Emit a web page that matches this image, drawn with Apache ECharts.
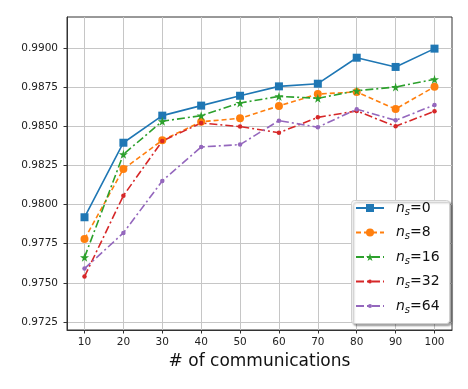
<!DOCTYPE html>
<html>
<head>
<meta charset="utf-8">
<script src="https://cdn.jsdelivr.net/npm/echarts@6/dist/echarts.min.js"></script>
<style>
  html, body { margin: 0; padding: 0; background: #fff; }
  #chart { width: 468px; height: 389px; }
</style>
</head>
<body>
<div id="chart"></div>
<script>
const rounds = [10, 20, 30, 40, 50, 60, 70, 80, 90, 100];
const yTicks = [0.9725, 0.975, 0.9775, 0.98, 0.9825, 0.985, 0.9875, 0.99];

const ns0 = [0.97919, 0.98395, 0.98568, 0.98632, 0.98695, 0.98755, 0.98772, 0.98938, 0.98879, 0.98996];
const ns8 = [0.97780, 0.98227, 0.98411, 0.98529, 0.98551, 0.98630, 0.98706, 0.98719, 0.98610, 0.98753];
const ns16 = [0.97663, 0.98321, 0.98532, 0.98568, 0.98649, 0.98691, 0.98679, 0.98727, 0.98751, 0.98800];
const ns32 = [0.97540, 0.98057, 0.98406, 0.98521, 0.98498, 0.98459, 0.98557, 0.98598, 0.98500, 0.98596];
const ns64 = [0.97591, 0.97819, 0.98151, 0.98368, 0.98383, 0.98536, 0.98494, 0.98609, 0.98538, 0.98636];

const seriesNames = ['n_s=0', 'n_s=8', 'n_s=16', 'n_s=32', 'n_s=64'];
const colors = ['#1f77b4', '#ff7f0e', '#2ca02c', '#d62728', '#9467bd'];

const STAR = 'path://M50,0 L61,35 L98,35 L68,57 L79,91 L50,70 L21,91 L32,57 L2,35 L39,35 Z';
const FONT = 'DejaVu Sans';

function makeSeries(name, values, color, lineType, symbol, symbolSize) {
    return {
        name,
        type: 'line',
        data: rounds.map((x, i) => [x, values[i]]),
        symbol,
        symbolSize,
        showAllSymbol: true,
        lineStyle: { color, width: 1.6, type: lineType },
        itemStyle: { color, borderWidth: 0 },
        emphasis: { disabled: true },
        animation: false,
    };
}

// one legend per entry so each marker keeps its own size
const legendRowY = [210, 234.5, 259, 283.5, 308];
const legendIconH = [10, 10, 10, 5, 5];

function makeLegend(i) {
    return {
        left: 355,
        top: legendRowY[i] - 9,
        padding: 0,
        z: 6,
        itemWidth: 28,
        itemHeight: legendIconH[i],
        data: [seriesNames[i]],
        selectedMode: false,
        formatter: (name) => '{n|n}{s|s}{t|=' + name.split('=')[1] + '}',
        textStyle: {
            padding: [0, 0, 0, 7],
            rich: {
                n: { fontSize: 14, lineHeight: 18, fontStyle: 'italic', color: '#111', fontFamily: FONT },
                s: { fontSize: 10, lineHeight: 18, fontStyle: 'italic', color: '#111', verticalAlign: 'bottom', padding: [5, 0, 0, 0], fontFamily: FONT },
                t: { fontSize: 14, lineHeight: 18, color: '#111', fontFamily: FONT },
            },
        },
    };
}

const chart = echarts.init(document.getElementById('chart'));

chart.setOption({
    animation: false,
    backgroundColor: '#fff',
    textStyle: { fontFamily: FONT },
    grid: {
        left: 67, top: 17, right: 16, bottom: 59,
        show: true, borderColor: '#333', borderWidth: 1,
    },
    xAxis: {
        type: 'value',
        min: 5.5,
        max: 104.5,
        name: '# of communications',
        nameLocation: 'middle',
        nameGap: 22,
        nameTextStyle: { fontSize: 17, color: '#111', fontFamily: FONT },
        axisLine: { show: true, onZero: false, lineStyle: { color: '#333' } },
        axisTick: { show: true, customValues: rounds, length: 3.5, lineStyle: { color: '#333' } },
        axisLabel: { customValues: rounds, margin: 7, fontSize: 10.5, color: '#222', fontFamily: FONT },
        splitLine: { show: true, lineStyle: { color: '#c6c6c6', width: 1 } },
    },
    yAxis: {
        type: 'value',
        min: 0.97199,
        max: 0.99198,
        axisLine: { show: true, lineStyle: { color: '#333' } },
        axisTick: { show: true, customValues: yTicks, length: 3.5, lineStyle: { color: '#333' } },
        axisLabel: {
            customValues: yTicks,
            margin: 9,
            fontSize: 10.5,
            color: '#222',
            fontFamily: FONT,
            formatter: (v) => v.toFixed(4),
        },
        splitLine: { show: true, lineStyle: { color: '#c6c6c6', width: 1 } },
    },
    graphic: [
        {
            type: 'rect',
            left: 351,
            top: 200,
            z: 3,
            shape: { width: 98, height: 123, r: 3 },
            style: {
                fill: '#fff',
                stroke: '#d0d0d0',
                lineWidth: 1,
                shadowColor: 'rgba(0,0,0,0.35)',
                shadowBlur: 2,
                shadowOffsetX: 2,
                shadowOffsetY: 2,
            },
        },
    ],
    legend: seriesNames.map((_, i) => makeLegend(i)),
    series: [
        makeSeries(seriesNames[0], ns0, colors[0], 'solid', 'rect', 8),
        makeSeries(seriesNames[1], ns8, colors[1], [5, 3], 'circle', 8),
        makeSeries(seriesNames[2], ns16, colors[2], [8, 3, 2, 3], STAR, 9),
        makeSeries(seriesNames[3], ns32, colors[3], [8, 3, 2, 3], 'circle', 4.5),
        makeSeries(seriesNames[4], ns64, colors[4], [8, 3, 2, 3], 'circle', 4.5),
    ],
});
</script>
</body>
</html>
